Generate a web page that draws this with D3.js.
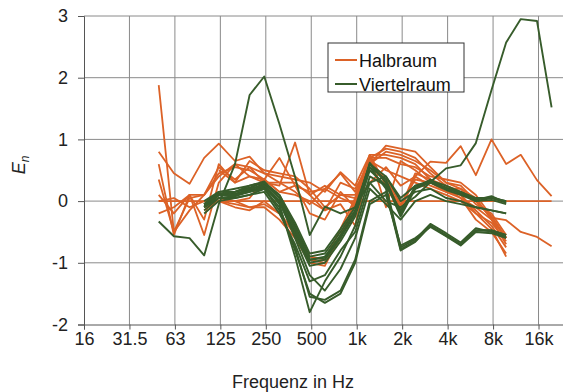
<!DOCTYPE html>
<html>
<head>
<meta charset="utf-8">
<script src="https://cdn.jsdelivr.net/npm/d3@7"></script>
<style>
  body { margin: 0; background: #fff; }
  svg { display: block; font-family: 'Liberation Sans', Arial, sans-serif; }
</style>
</head>
<body>
<div id="chart"></div>
<script>
// 1/3-octave band centres (Hz)
const freqs = [50, 63, 80, 100, 125, 160, 200, 250, 315, 400, 500, 630, 800,
  1000, 1250, 1600, 2000, 2500, 3150, 4000, 5000, 6300, 8000, 10000, 12500, 16000, 20000];

const xTickValues = [16, 32, 64, 128, 256, 512, 1024, 2048, 4096, 8192, 16384];
const xTickLabels = ['16', '31.5', '63', '125', '250', '500', '1k', '2k', '4k', '8k', '16k'];
const yTicks = [-2, -1, 0, 1, 2, 3];

const _ = null;
// Halbraum (half space) measurements, En per band
const halbraum = [
  [0, 0, 0, 0, 0, 0, 0, 0, 0, 0, 0, 0, 0, 0, 0, 0, 0, 0, 0, 0, 0, 0, 0, 0, 0, 0, 0],
  [1.88, -0.5, 0.05, 0.1, 0.55, 0.35, 0.55, 0.3, 0.3, 0.15, -0.05, 0.2, 0.45, 0.15, 0.7, 0.85, 0.8, 0.7, 0.45, 0.25, 0.1, -0.2, -0.45, -0.9, _, _, _],
  [0.8, 0.45, 0.28, 0.7, 0.93, 0.65, 0.72, 0.45, 0.4, 0.35, 0.3, 0.15, 0.47, 0.25, 0.75, 0.75, 0.7, 0.6, 0.35, 0.2, 0.05, -0.1, -0.3, -0.7, _, _, _],
  [0.6, -0.55, 0.1, -0.3, 0.6, 0.3, 0.65, 0.5, 0.45, 0.4, 0.2, -0.1, 0.1, 0.05, 0.7, 0.7, 0.6, 0.55, 0.4, 0.35, 0.3, 0.1, -0.25, -0.6, _, _, _],
  [0.35, -0.5, -0.15, 0.1, 0.45, 0.55, 0.5, 0.35, 0.7, 0.25, -0.2, -0.3, 0.15, -0.1, 0.75, -0.1, 0.65, 0.5, 0.3, 0.15, 0.05, -0.3, -0.5, -0.85, _, _, _],
  [0.0, 0.05, -0.1, 0.0, 0.05, 0.0, 0.05, 0.35, 0.15, 0.25, 0.15, 0.2, 0.05, -0.05, 0.3, 0.55, 0.25, 0.4, 0.64, 0.62, 0.89, 0.42, 1.0, 0.6, 0.75, 0.34, 0.08],
  [_, _, _, -0.1, 0.0, -0.05, -0.1, -0.05, -0.2, -0.55, -0.95, -1.0, -0.6, -0.05, 0.7, 0.3, -0.1, 0.45, 0.35, 0.25, 0.15, 0.0, -0.27, -0.31, -0.5, -0.58, -0.73],
  [_, _, _, -0.05, 0.05, 0.0, -0.1, -0.1, -0.3, -0.6, -1.0, -1.05, -0.55, 0.0, 0.65, 0.35, -0.05, 0.35, 0.3, 0.2, 0.2, 0.05, -0.3, -0.6, _, _, _],
  [_, _, _, -0.15, 0.0, -0.1, -0.15, 0.0, -0.2, -0.5, -0.9, -0.95, -0.45, 0.05, 0.75, 0.25, -0.15, 0.4, 0.25, 0.15, 0.1, -0.15, -0.4, -0.75, _, _, _],
  [0.1, -0.2, 0.1, 0.1, 0.4, 0.6, 0.55, 0.45, 0.3, 0.3, 0.1, 0.25, 0.1, 0.1, 0.6, 0.8, 0.75, 0.65, 0.5, 0.3, 0.2, -0.05, -0.2, -0.55, _, _, _],
  [_, _, _, _, 0.5, 0.3, 0.4, 0.3, 0.25, 0.95, 0.1, -0.15, 0.3, 0.2, 0.6, 0.9, 0.85, 0.8, 0.55, 0.3, 0.25, 0.0, -0.25, -0.6, _, _, _],
  [-0.2, -0.1, 0.1, -0.55, 0.3, 0.6, 0.4, 0.35, 0.15, 0.1, 0.0, -0.15, -0.05, -0.4, 0.65, 0.5, 0.4, 0.3, 0.2, 0.1, 0.0, -0.2, -0.35, -0.65, _, _, _]
];

// Viertelraum (quarter space) measurements, En per band
const viertelraum = [
  [-0.33, -0.57, -0.6, -0.88, -0.05, 0.6, 1.72, 2.02, 1.25, 0.39, -0.55, -0.09, -0.2, -0.1, 0.3, 0.0, -0.1, 0.07, 0.31, 0.53, 0.58, 0.94, 1.8, 2.57, 2.95, 2.92, 1.52],
  [_, _, _, -0.05, 0.15, 0.15, 0.22, 0.3, 0.1, -0.4, -0.9, -0.85, -0.5, -0.15, 0.6, 0.3, -0.25, 0.2, 0.35, 0.2, 0.15, 0.0, 0.05, -0.02, _, _, _],
  [_, _, _, -0.1, 0.1, 0.12, 0.18, 0.28, 0.05, -0.45, -0.95, -0.9, -0.55, -0.2, 0.55, 0.35, -0.2, 0.25, 0.3, 0.22, 0.12, 0.02, 0.08, -0.03, _, _, _],
  [_, _, _, -0.05, 0.12, 0.1, 0.2, 0.25, 0.0, -0.5, -1.0, -0.95, -0.6, -0.2, 0.55, 0.2, -0.78, -0.65, -0.4, -0.55, -0.7, -0.47, -0.47, -0.55, _, _, _],
  [_, _, _, -0.08, 0.1, 0.08, 0.17, 0.22, -0.02, -0.55, -1.05, -1.0, -0.65, -0.25, 0.5, 0.25, -0.75, -0.62, -0.37, -0.52, -0.67, -0.44, -0.5, -0.58, _, _, _],
  [_, _, _, 0.0, 0.15, 0.2, 0.25, 0.3, 0.1, -0.35, -0.85, -0.8, -0.45, -0.1, 0.6, 0.4, 0.0, 0.15, 0.2, 0.05, 0.0, -0.1, -0.15, -0.2, _, _, _],
  [_, _, _, -0.1, 0.05, 0.05, 0.1, 0.2, -0.1, -0.8, -1.5, -1.65, -1.5, -1.0, -0.05, 0.1, -0.72, -0.6, -0.42, -0.57, -0.72, -0.5, -0.52, -0.6, _, _, _],
  [_, _, _, -0.15, 0.05, 0.08, 0.15, 0.25, -0.05, -0.9, -1.8, -1.3, -0.9, -0.4, 0.4, 0.25, -0.15, 0.2, 0.3, 0.18, 0.1, 0.0, 0.02, -0.05, _, _, _],
  [_, _, _, -0.05, 0.1, 0.1, 0.15, 0.2, -0.15, -0.75, -1.55, -1.6, -1.45, -0.95, 0.0, 0.15, -0.8, -0.66, -0.4, -0.56, -0.7, -0.48, -0.48, -0.55, _, _, _],
  [_, _, _, -0.2, 0.0, 0.05, 0.1, 0.15, -0.2, -0.7, -1.3, -1.2, -0.8, -0.5, 0.3, 0.4, 0.05, 0.25, 0.33, 0.25, 0.15, 0.05, 0.05, 0.0, _, _, _],
  [_, _, _, -0.1, 0.1, 0.15, 0.2, 0.25, 0.0, -0.6, -1.2, -1.45, -1.1, -0.6, 0.2, -0.05, -0.3, 0.0, 0.1, 0.0, -0.05, -0.1, -0.15, -0.2, _, _, _],
  [_, _, _, -0.05, 0.12, 0.15, 0.25, 0.32, 0.05, -0.45, -0.95, -0.92, -0.58, -0.18, 0.62, 0.3, -0.22, 0.22, 0.33, 0.2, 0.14, 0.04, 0.06, 0.0, _, _, _]
];

const seriesNames = ['Halbraum', 'Viertelraum'];
const seriesColors = ['#dc6227', '#375c2b'];

const width = 563, height = 392;
const plotLeft = 84, plotRight = 563, plotTop = 16, plotBottom = 324.5;

const svg = d3.select('#chart').append('svg')
  .attr('width', width)
  .attr('height', height);

const x = d3.scaleLog().base(2).domain([16, 23800]).range([plotLeft, plotRight]);
const y = d3.scaleLinear().domain([-2, 3]).range([plotBottom, plotTop]);

// grid
svg.append('g')
  .selectAll('line')
  .data(xTickValues.slice(1))
  .join('line')
  .attr('x1', (d) => x(d)).attr('x2', (d) => x(d))
  .attr('y1', plotTop).attr('y2', plotBottom)
  .attr('stroke', '#8a8a8a').attr('stroke-width', 1);

svg.append('g')
  .selectAll('line')
  .data(yTicks.slice(1))
  .join('line')
  .attr('x1', plotLeft).attr('x2', plotRight)
  .attr('y1', (d) => y(d)).attr('y2', (d) => y(d))
  .attr('stroke', '#8a8a8a').attr('stroke-width', 1);

// axes
const xAxis = svg.append('g')
  .attr('transform', `translate(0,${plotBottom})`)
  .call(d3.axisBottom(x)
    .tickValues(xTickValues)
    .tickFormat((d, i) => xTickLabels[i])
    .tickSizeOuter(0)
    .tickSize(5)
    .tickPadding(3));
xAxis.select('.domain').attr('stroke', '#555');
xAxis.selectAll('.tick line').attr('stroke', '#555');
xAxis.selectAll('text').attr('font-size', 18).attr('fill', '#222')
  .attr('font-family', "'Liberation Sans', Arial, sans-serif");

const yAxis = svg.append('g')
  .attr('transform', `translate(${plotLeft},0)`)
  .call(d3.axisLeft(y)
    .tickValues(yTicks)
    .tickFormat((d) => String(d))
    .tickSizeOuter(0)
    .tickSize(6)
    .tickPadding(10));
yAxis.select('.domain').attr('stroke', '#555');
yAxis.selectAll('.tick line').attr('stroke', '#555');
yAxis.selectAll('text').attr('font-size', 18).attr('fill', '#222')
  .attr('font-family', "'Liberation Sans', Arial, sans-serif");

// axis titles
svg.append('text')
  .attr('x', 293)
  .attr('y', 388)
  .attr('text-anchor', 'middle')
  .attr('font-size', 18)
  .attr('fill', '#222')
  .text('Frequenz in Hz');

const yTitle = svg.append('text')
  .attr('transform', 'translate(25,165) rotate(-90)')
  .attr('text-anchor', 'middle')
  .attr('font-size', 18)
  .attr('fill', '#222');
yTitle.append('tspan').attr('font-style', 'italic').text('E');
yTitle.append('tspan').attr('font-style', 'italic').attr('font-size', 12).attr('dy', 4).text('n');

// lines
const line = d3.line()
  .defined((d) => d[1] !== null)
  .x((d) => x(d[0]))
  .y((d) => y(d[1]));

function drawGroup(rows, color, w) {
  svg.append('g')
    .selectAll('path')
    .data(rows)
    .join('path')
    .attr('fill', 'none')
    .attr('stroke', color)
    .attr('stroke-width', w)
    .attr('stroke-linejoin', 'round')
    .attr('d', (r) => line(r.map((v, i) => [freqs[i], v])));
}

drawGroup(halbraum, seriesColors[0], 1.8);
drawGroup(viertelraum, seriesColors[1], 1.9);

// legend
const lg = svg.append('g').attr('transform', 'translate(328,43)');
lg.append('rect')
  .attr('width', 136).attr('height', 49)
  .attr('fill', '#fff').attr('stroke', '#333').attr('stroke-width', 1);
seriesNames.forEach((name, i) => {
  const cy = 17 + i * 24;
  lg.append('line')
    .attr('x1', 7).attr('x2', 29)
    .attr('y1', cy).attr('y2', cy)
    .attr('stroke', seriesColors[i]).attr('stroke-width', 2);
  lg.append('text')
    .attr('x', 31).attr('y', cy + 6.5)
    .attr('font-size', 18)
    .attr('fill', '#111')
    .text(name);
});
</script>
</body>
</html>
